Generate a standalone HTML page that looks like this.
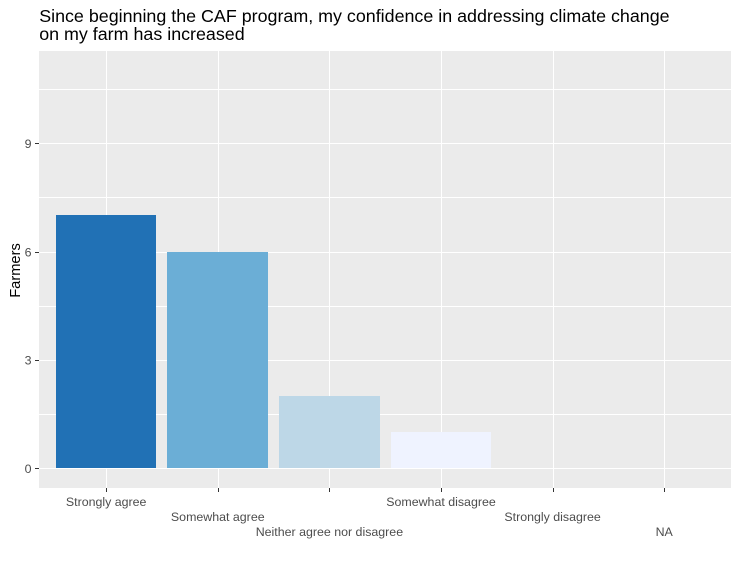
<!DOCTYPE html>
<html>
<head>
<meta charset="utf-8">
<title>CAF confidence chart</title>
<style>
html,body{margin:0;padding:0;background:#fff;width:739px;height:563px;overflow:hidden}
svg{display:block}
text{font-family:"Liberation Sans",sans-serif}
</style>
</head>
<body>
<svg id="chart" width="739" height="563" viewBox="0 0 739 563">
<rect width="739" height="563" fill="#fff"/>
<g>
<text x="39.2" y="22" font-size="17.87" fill="#000">Since beginning the CAF program, my confidence in addressing climate change</text>
<text x="39.2" y="40" font-size="17.87" fill="#000">on my farm has increased</text>
</g>
<text transform="translate(20,270.5) rotate(-90)" text-anchor="middle" font-size="14.67" fill="#000">Farmers</text>
<g id="layer"></g>
</svg>
<script>
const categories = ["Strongly agree","Somewhat agree","Neither agree nor disagree","Somewhat disagree","Strongly disagree","NA"];
const farmers = [7,6,2,1,0,0];
const barColors = ["#2171B5","#6BAED6","#BDD7E7","#EFF3FF","#EFF3FF","#EFF3FF"];
const yTicks = [0,3,6,9];
const yMinorTicks = [1.5,4.5,7.5,10.5];
const labelRows = [0,1,2,0,1,2];

const panelLeft = 39, panelRight = 731, panelTop = 51, panelBottom = 488;
const xStep = (panelRight - panelLeft) / (categories.length + 0.2);
const xScale = i => panelLeft + 0.7 + xStep * (i + 0.6);
const yScale = v => 468.8 - 36.11 * v;
const crisp = p => Math.floor(p) + 0.5;

const NS = "http://www.w3.org/2000/svg";
const layer = document.getElementById("layer");
function make(tag, attrs, text) {
  const el = document.createElementNS(NS, tag);
  for (const k in attrs) el.setAttribute(k, attrs[k]);
  if (text !== undefined) el.textContent = text;
  layer.appendChild(el);
  return el;
}

const panel = make("rect", {x: panelLeft, y: panelTop, width: panelRight - panelLeft, height: panelBottom - panelTop, fill: "#EBEBEB"});



yMinorTicks.forEach(v => {
  const l = make("line", {x1: panelLeft, x2: panelRight, y1: crisp(yScale(v)), y2: crisp(yScale(v)), stroke: "#fff", "stroke-width": 1});
  
  
});
yTicks.forEach(v => {
  const l = make("line", {x1: panelLeft, x2: panelRight, y1: crisp(yScale(v)), y2: crisp(yScale(v)), stroke: "#fff", "stroke-width": 1});
  
  
  const t = make("line", {x1: panelLeft - 4, x2: panelLeft, y1: crisp(yScale(v)), y2: crisp(yScale(v)), stroke: "#333", "stroke-width": 1});
  
  
  const s = make("text", {x: panelLeft - 7.5, y: yScale(v) + 4.2, "text-anchor": "end", "font-size": 12.4, fill: "#4D4D4D"}, String(v));
  
  
});
categories.forEach((c, i) => {
  const x = crisp(xScale(i));
  const l = make("line", {x1: x, x2: x, y1: panelTop, y2: panelBottom, stroke: "#fff", "stroke-width": 1});
  
  
});
categories.forEach((c, i) => {
  const x = xScale(i);
  if (farmers[i] > 0) {
    const left = Math.round(x - 50.9);
    const right = Math.round(x + 49.62);
    const top = Math.round(yScale(farmers[i]) - 0.6);
    const bottom = Math.round(yScale(0) - 0.6);
    const b = make("rect", {x: left, y: top, width: right - left, height: bottom - top, fill: barColors[i]});
    
    
  }
  const t = make("line", {x1: crisp(x), x2: crisp(x), y1: panelBottom, y2: panelBottom + 4, stroke: "#333", "stroke-width": 1});
  
  
  const s = make("text", {x: x - 0.5, y: 506 + labelRows[i] * 15, "text-anchor": "middle", "font-size": 12.4, fill: "#4D4D4D"}, c);
  
  
});
</script>
</body>
</html>
